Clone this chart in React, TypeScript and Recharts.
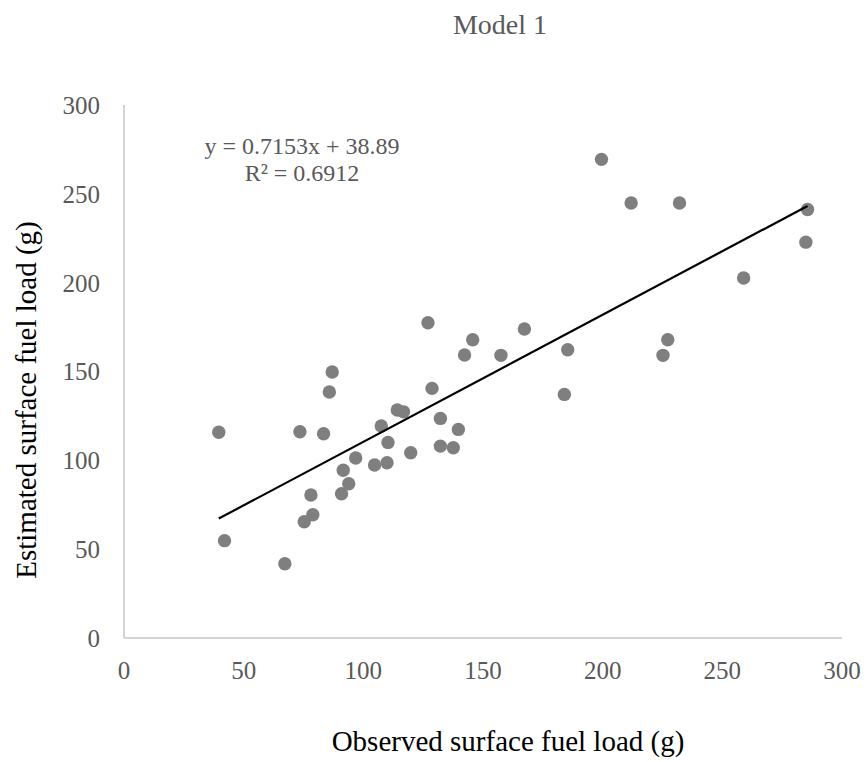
import React from 'react';
import { ScatterChart, Scatter, XAxis, YAxis } from 'recharts';

const observed = [
  39.6, 42.0, 67.2, 73.5, 75.3, 78.9, 78.1, 83.4, 85.8, 87.0,
  90.9, 91.6, 93.9, 96.8, 104.7, 107.5, 109.9, 110.3, 114.2, 116.8,
  119.8, 127.0, 128.7, 132.2, 132.2, 137.6, 139.7, 142.3, 145.7, 157.5,
  167.3, 185.4, 184.0, 199.5, 211.9, 232.1, 227.2, 225.2, 258.9, 285.6,
  284.9,
];
const estimated = [
  115.8, 54.8, 41.8, 116.1, 65.4, 69.4, 80.5, 115.0, 138.5, 149.7,
  81.2, 94.4, 86.8, 101.3, 97.4, 119.3, 98.6, 110.1, 128.3, 127.3,
  104.3, 177.4, 140.5, 123.6, 108.0, 107.1, 117.4, 159.3, 167.9, 159.1,
  173.9, 162.2, 137.1, 269.4, 244.8, 244.8, 167.9, 159.1, 202.6, 241.2,
  222.8,
];
const xTicks = [0, 50, 100, 150, 200, 250, 300];
const yTicks = [0, 50, 100, 150, 200, 250, 300];

// linear trendline as printed on the chart
const slope = 0.7153;
const intercept = 38.89;

const FONT = '"Liberation Serif", "Times New Roman", serif';
const GREY_TEXT = '#595959';

export default function App() {
  const points = observed.map((x, i) => ({ x, y: estimated[i] }));
  const xMin = Math.min(...observed);
  const xMax = Math.max(...observed);
  const trend = [
    { x: xMin, y: slope * xMin + intercept },
    { x: xMax, y: slope * xMax + intercept },
  ];

  const tickStyle = { fill: GREY_TEXT, fontSize: 25, fontFamily: FONT };

  return (
    <div style={{ position: 'relative', width: 866, height: 762, background: '#fff' }}>
      <style>{'body{margin:0}'}</style>
      <ScatterChart width={866} height={762} margin={{ top: 105, right: 24, bottom: 0, left: 0 }}>
        <XAxis
          type="number"
          dataKey="x"
          domain={[0, 300]}
          ticks={xTicks}
          height={124}
          axisLine={{ stroke: '#c6c6c6', strokeWidth: 1.5 }}
          tickLine={false}
          tickSize={0}
          tickMargin={23}
          tick={tickStyle}
        />
        <YAxis
          type="number"
          dataKey="y"
          domain={[0, 300]}
          ticks={yTicks}
          width={124}
          axisLine={{ stroke: '#c6c6c6', strokeWidth: 1.5 }}
          tickLine={false}
          tickSize={0}
          tickMargin={24}
          tick={tickStyle}
        />
        <Scatter
          data={points}
          isAnimationActive={false}
          shape={(p: any) => <circle cx={p.cx} cy={p.cy} r={6.7} fill="#7f7f7f" />}
        />
        <Scatter
          data={trend}
          isAnimationActive={false}
          line={{ stroke: '#000', strokeWidth: 2.2 }}
          lineType="joint"
          shape={() => <g />}
        />
      </ScatterChart>
      <svg
        width={866}
        height={762}
        style={{ position: 'absolute', left: 0, top: 0, pointerEvents: 'none' }}
      >
        <text x={500} y={34} textAnchor="middle" fontFamily={FONT} fontSize={28} fill={GREY_TEXT}>
          Model 1
        </text>
        <text x={302} y={154} textAnchor="middle" fontFamily={FONT} fontSize={24} fill={GREY_TEXT}>
          y = 0.7153x + 38.89
        </text>
        <text x={302} y={181} textAnchor="middle" fontFamily={FONT} fontSize={24} fill={GREY_TEXT}>
          R² = 0.6912
        </text>
        <text x={508} y={751} textAnchor="middle" fontFamily={FONT} fontSize={29} fill="#000">
          Observed surface fuel load (g)
        </text>
        <text
          x={36}
          y={400}
          textAnchor="middle"
          fontFamily={FONT}
          fontSize={29}
          fill="#000"
          transform="rotate(-90 36 400)"
        >
          Estimated surface fuel load (g)
        </text>
      </svg>
    </div>
  );
}
